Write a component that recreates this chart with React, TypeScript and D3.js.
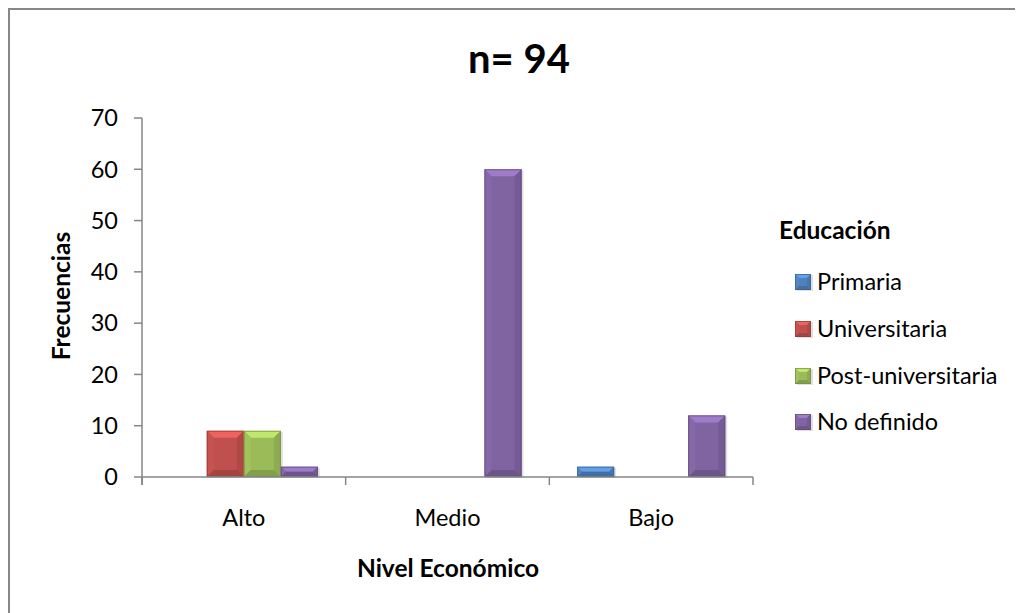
import React, { useEffect } from "react";
import * as d3 from "d3";

const categories = ["Alto", "Medio", "Bajo"];
const seriesNames = ["Primaria", "Universitaria", "Post-universitaria", "No definido"];
const primaria = [0, 0, 2];
const universitaria = [9, 0, 0];
const postUniversitaria = [9, 0, 0];
const noDefinido = [2, 60, 12];
const seriesValues = [primaria, universitaria, postUniversitaria, noDefinido];
const seriesColors = ["#4F81BD", "#C0504D", "#9BBB59", "#8064A2"];
const yTicks = [0, 10, 20, 30, 40, 50, 60, 70];

const title = "n= 94";
const xTitle = "Nivel Económico";
const yTitle = "Frecuencias";
const legendTitle = "Educación";

const FONT = "Lato, 'Open Sans', sans-serif";
const AXIS = "#868686";
const REG = 23.5;
const BOLD = 24.5;

function Bevel({ x, y, w, h, color, b0 }: { x: number; y: number; w: number; h: number; color: string; b0: number }) {
  const b = Math.max(0, Math.min(b0, h / 2, w / 2));
  const x1 = x + w;
  const y1 = y + h;
  const c = d3.color(color)!;
  const top = c.brighter(0.6).formatHex();
  const left = c.brighter(0.1).formatHex();
  const right = c.darker(0.25).formatHex();
  const bottom = c.darker(0.45).formatHex();
  const edge = c.darker(0.8).formatHex();
  const pts = (p: number[][]) => p.map((q) => q.join(",")).join(" ");
  return (
    <g>
      <rect x={x + 2} y={y + 1} width={w} height={h} fill="#000" opacity={0.12} />
      <rect x={x} y={y} width={w} height={h} fill={color} />
      <polygon points={pts([[x, y], [x1, y], [x1 - b, y + b], [x + b, y + b]])} fill={top} />
      <polygon points={pts([[x, y], [x + b, y + b], [x + b, y1 - b], [x, y1]])} fill={left} />
      <polygon points={pts([[x1, y], [x1, y1], [x1 - b, y1 - b], [x1 - b, y + b]])} fill={right} />
      <polygon points={pts([[x, y1], [x + b, y1 - b], [x1 - b, y1 - b], [x1, y1]])} fill={bottom} />
      <rect x={x + 0.5} y={y + 0.5} width={w - 1} height={h - 1} fill="none" stroke={edge} strokeWidth={1} opacity={0.7} />
    </g>
  );
}

export default function App() {
  useEffect(() => {
    document.body.style.overflow = "hidden";
  }, []);

  const left = 142;
  const right = 753;
  const top = 118;
  const bottom = 477;

  const x = d3.scaleBand<string>().domain(categories).range([left, right]).paddingInner(0).paddingOuter(0);
  const xs = d3.scaleBand<string>().domain(seriesNames).range([0, x.bandwidth()]).paddingInner(0).paddingOuter(0.75);
  const y = d3.scaleLinear().domain([0, 70]).range([bottom, top]);

  const edges = categories.map((c) => x(c)!).concat([right]);

  const legendY = [282, 329, 376, 422];

  return (
    <svg width={1015} height={605} style={{ display: "block" }}>
      <g transform="translate(-8,-8)">
        <rect x={0} y={0} width={1200} height={800} fill="#fff" />
        <rect x={9} y={9} width={1100} height={800} fill="none" stroke="#878787" strokeWidth={2} />

        <text x={519} y={73} textAnchor="middle" fontFamily={FONT} fontWeight="bold" fontSize={40} fill="#000">
          {title}
        </text>

        {/* bars */}
        {seriesNames.map((s, si) =>
          categories.map((c, ci) => {
            const v = seriesValues[si][ci];
            if (!v) return null;
            const bx = x(c)! + xs(s)!;
            const by = y(v);
            return (
              <Bevel key={s + c} x={bx} y={by} w={xs.bandwidth()} h={y(0) - by} color={seriesColors[si]} b0={7} />
            );
          })
        )}

        {/* y axis */}
        <line x1={left} x2={left} y1={top} y2={bottom + 8} stroke={AXIS} strokeWidth={1.5} />
        {yTicks.map((t) => (
          <g key={t}>
            <line x1={left - 8} x2={left} y1={y(t)} y2={y(t)} stroke={AXIS} strokeWidth={1.5} />
            <text x={118} y={y(t)} dy="0.35em" textAnchor="end" fontFamily={FONT} fontSize={REG} fill="#000">
              {t}
            </text>
          </g>
        ))}

        {/* x axis */}
        <line x1={left} x2={right} y1={bottom} y2={bottom} stroke={AXIS} strokeWidth={1.5} />
        {edges.map((e, i) => (
          <line key={i} x1={e} x2={e} y1={bottom} y2={bottom + 8} stroke={AXIS} strokeWidth={1.5} />
        ))}
        {categories.map((c) => (
          <text key={c} x={x(c)! + x.bandwidth() / 2} y={526} textAnchor="middle" fontFamily={FONT} fontSize={REG} fill="#000">
            {c}
          </text>
        ))}

        <text x={448} y={577} textAnchor="middle" fontFamily={FONT} fontWeight="bold" fontSize={BOLD} fill="#000">
          {xTitle}
        </text>
        <text transform="translate(70,296) rotate(-90)" textAnchor="middle" fontFamily={FONT} fontWeight="bold" fontSize={BOLD} fill="#000">
          {yTitle}
        </text>

        {/* legend */}
        <text x={779} y={239} fontFamily={FONT} fontWeight="bold" fontSize={BOLD} fill="#000">
          {legendTitle}
        </text>
        {seriesNames.map((s, i) => (
          <g key={s}>
            <Bevel x={795} y={legendY[i] - 8} w={16} h={16} color={seriesColors[i]} b0={4} />
            <text x={817} y={legendY[i]} dy="0.36em" fontFamily={FONT} fontSize={REG} fill="#000">
              {s}
            </text>
          </g>
        ))}
      </g>
    </svg>
  );
}
